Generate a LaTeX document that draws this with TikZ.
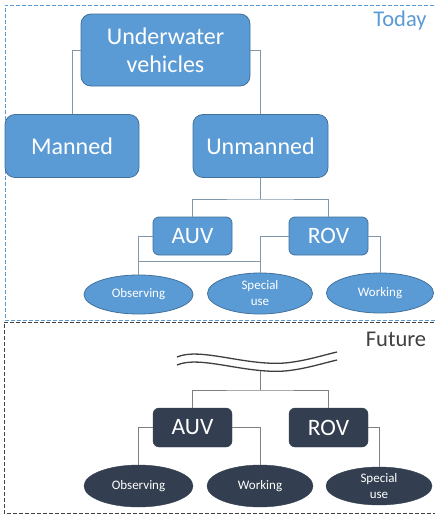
\documentclass[tikz,border=0pt]{standalone}
\usepackage{fontspec}
\setmainfont{Carlito}
\usetikzlibrary{shapes.geometric}
\definecolor{accblue}{HTML}{5B9BD5}
\definecolor{accborder}{HTML}{41719C}
\definecolor{lineblue}{HTML}{8197AC}
\definecolor{darkbox}{HTML}{333F50}
\definecolor{linegray}{HTML}{7F7F7F}
\definecolor{framedark}{HTML}{404040}
\tikzset{
  bigbox/.style={draw=accborder, fill=accblue, line width=0.8pt, rounded corners=10pt, text=white,
    font=\fontsize{24}{28}\selectfont, align=center, inner sep=0pt},
  smallbox/.style={draw=accborder, fill=accblue, line width=0.8pt, rounded corners=6pt, text=white,
    font=\fontsize{23.5}{28}\selectfont, minimum width=79pt, minimum height=38pt, inner sep=0pt},
  leaf/.style={ellipse, draw=accborder, fill=accblue, line width=0.8pt, text=white,
    font=\fontsize{13}{16}\selectfont, align=center, inner sep=0pt},
  darkbx/.style={draw=darkbox, fill=darkbox, rounded corners=6pt, text=white,
    font=\fontsize{23.5}{28}\selectfont, minimum width=79pt, minimum height=39pt, inner sep=0pt},
  darkleaf/.style={ellipse, draw=darkbox, fill=darkbox, text=white,
    font=\fontsize{13}{16}\selectfont, align=center, inner sep=0pt},
  conn/.style={draw=lineblue, line width=0.9pt},
  conndark/.style={draw=linegray, line width=0.9pt},
  wave/.style={draw=framedark!80!darkbox, line width=1.3pt},
}
\begin{document}
\begin{tikzpicture}[x=1pt,y=-1pt]
\useasboundingbox (0,0) rectangle (434,514);
\fill[white] (0,0) rectangle (434,514);
% frames
\draw[accblue, line width=1pt, dash pattern=on 4pt off 2pt] (440,5) -- (5,5) -- (5,320) -- (440,320);
\draw[framedark, line width=1pt, dash pattern=on 4pt off 2pt] (440,322) -- (4,322) -- (4,513) -- (440,513);
\node[text=accblue, font=\fontsize{22.5}{26}\selectfont] (today) at (400,21) {Today};
\node[text=framedark, font=\fontsize{22.5}{26}\selectfont] (future) at (396,339) {Future};

% top tree
\node[bigbox, minimum width=169pt, minimum height=72pt] (uv) at (165.5,50) {Underwater\\vehicles};
\node[bigbox, minimum width=134pt, minimum height=63pt] (man) at (72,146) {Manned};
\node[bigbox, minimum width=135pt, minimum height=63pt] (unm) at (260.5,146) {Unmanned};
\node[smallbox] (auv) at (192.5,236) {AUV};
\node[smallbox] (rov) at (328.5,236) {ROV};
\node[leaf, minimum width=109pt, minimum height=39pt] (obs) at (138.5,294.5) {Observing};
\node[leaf, minimum width=105pt, minimum height=41pt] (spec) at (260,293.5) {Special\\use};
\node[leaf, minimum width=107pt, minimum height=40pt] (work) at (380,293) {Working};

\coordinate (bus1) at (260.5,199);
\coordinate (j1) at (138.5,261);
\draw[conn] (uv.west) -| (man.north);
\draw[conn] (uv.east) -| (unm.north);
\draw[conn] (unm.south) -- (bus1);
\draw[conn] (auv.north) |- (bus1) -| (rov.north);
\draw[conn] (auv.west) -| (obs.north);
\draw[conn] (j1) -| (spec.north);
\draw[conn] (rov.west) -| (spec.north);
\draw[conn] (rov.east) -| (work.north);

% bottom tree
\draw[wave] (177,357) .. controls (200,347) and (245,366) .. (285,363) .. controls (305,361) and (320,356) .. (337,352);
\draw[wave] (177,365) .. controls (200,355) and (245,374) .. (285,371) .. controls (305,369) and (320,364) .. (337,360);
\coordinate (wv) at (260,370.5);
\coordinate (bus2) at (260,390);
\node[darkbx] (auv2) at (192.5,427.5) {AUV};
\node[darkbx] (rov2) at (328.5,427.5) {ROV};
\node[darkleaf, minimum width=109pt, minimum height=42pt] (obs2) at (138.5,486) {Observing};
\node[darkleaf, minimum width=106pt, minimum height=42pt] (work2) at (260,486) {Working};
\node[darkleaf, minimum width=106pt, minimum height=38pt] (spec2) at (379,486) {Special\\use};

\draw[conndark] (wv) -- (bus2);
\draw[conndark] (auv2.north) |- (bus2) -| (rov2.north);
\draw[conndark] (auv2.west) -| (obs2.north);
\draw[conndark] (auv2.east) -| (work2.north);
\draw[conndark] (rov2.east) -| (spec2.north);
\end{tikzpicture}
\end{document}
